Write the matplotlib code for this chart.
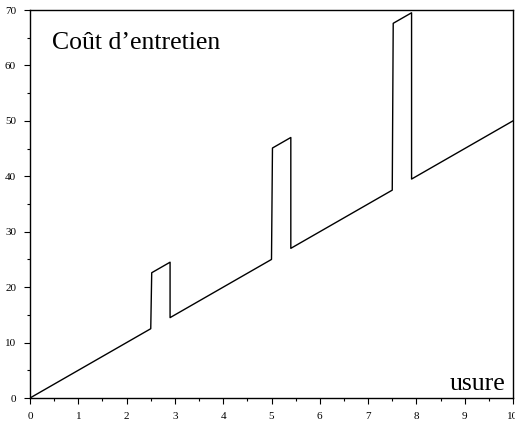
import matplotlib
matplotlib.use("Agg")
import matplotlib.pyplot as plt
from matplotlib.ticker import MultipleLocator

x = [0, 2.5, 2.52, 2.9, 2.9, 5.0, 5.02, 5.4, 5.4, 7.5, 7.52, 7.9, 7.9, 10]
y = [0, 12.5, 22.6, 24.5, 14.5, 25.0, 45.1, 47.0, 27.0, 37.5, 67.6, 69.5, 39.5, 50]
xticks = list(range(0, 11))
yticks = list(range(0, 71, 10))

plt.rcParams['font.family'] = ['Liberation Serif', 'DejaVu Serif']
fig = plt.figure(figsize=(5.15, 4.26), dpi=100)
ax = fig.add_axes([30/515, 1 - 398/426, 483/515, 388/426])
ax.plot(x, y, color='black', lw=1.0)
ax.set_xlim(0, 10)
ax.set_ylim(0, 70)
ax.set_xticks(xticks)
ax.set_yticks(yticks)
ax.xaxis.set_minor_locator(MultipleLocator(0.5))
ax.yaxis.set_minor_locator(MultipleLocator(5))
ax.tick_params(which='major', direction='out', length=4, width=0.8, labelsize=8, pad=6)
ax.tick_params(which='minor', direction='out', length=2, width=0.8)
for s in ax.spines.values():
    s.set_linewidth(1.0)
ax.text(0.045, 0.915, "Coût d\u2019entretien", transform=ax.transAxes, fontsize=18.5, va='center', ha='left')
ax.text(0.985, 0.037, "usure", transform=ax.transAxes, fontsize=18.5, va='center', ha='right')
fig.savefig("out.png", dpi=100)
